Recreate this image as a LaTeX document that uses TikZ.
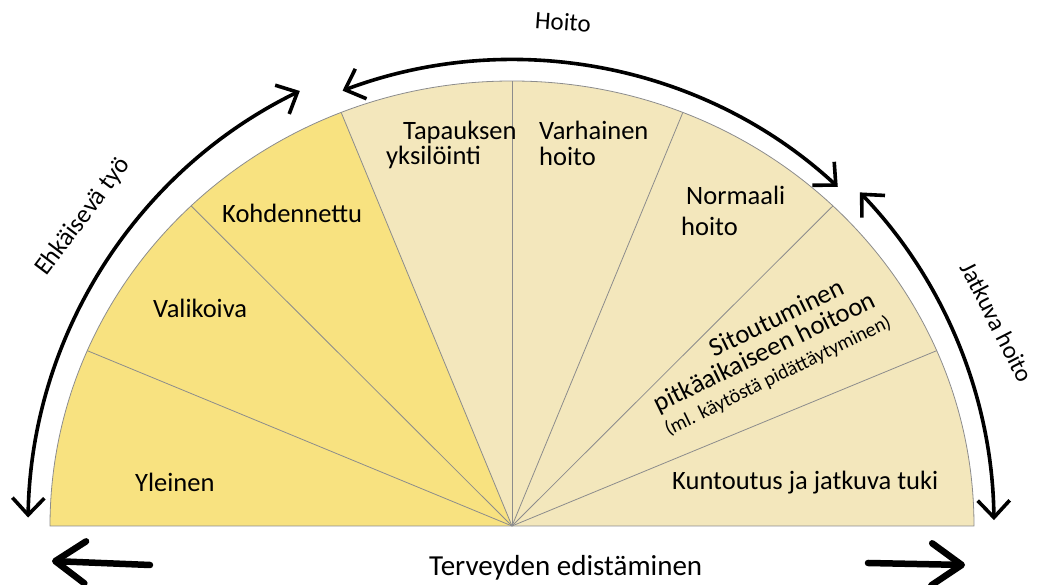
\documentclass[tikz,border=0pt]{standalone}
\usepackage{fontspec}
\setmainfont{Carlito}
\usetikzlibrary{arrows.meta}
\definecolor{yel}{RGB}{248,226,128}
\definecolor{bei}{RGB}{243,231,188}
\definecolor{gry}{RGB}{140,140,140}
\begin{document}
\begin{tikzpicture}[x=1pt,y=1pt,
  lab/.style={inner sep=0pt, anchor=base west, font=\fontsize{26.5}{30}\selectfont},
  rlab/.style={inner sep=0pt, font=\fontsize{26.5}{30}\selectfont},
  sep/.style={draw=gry, line width=0.8pt},
  arcarrow/.style={line width=3.6pt, {Straight Barb[length=17pt,width=32pt]}-{Straight Barb[length=17pt,width=32pt]}},
  bigarrow/.style={line width=6.5pt, line cap=round, -{Straight Barb[length=30pt,width=42pt,line cap=round,line join=round]}}]
\useasboundingbox (0,0) rectangle (1037,585);
\coordinate (C) at (512,59);
% pie
\fill[bei] (C) -- ++(0:462 and 445) arc[start angle=0,end angle=111.7,x radius=462,y radius=445] -- cycle;
\fill[yel] (C) -- ++(111.7:462 and 445) arc[start angle=111.7,end angle=180,x radius=462,y radius=445] -- cycle;
\foreach \a in {23.2,46,68.3,90,111.7,134,156.8}
  \draw[sep] (C) -- ++(\a:462 and 445);
\draw[sep] (C) ++(0:462 and 445) arc[start angle=0,end angle=180,x radius=462,y radius=445] -- cycle;
% sector labels
\node[lab] (yl) at (135,93) {Yleinen};
\node[lab] (va) at (153,267) {Valikoiva};
\node[lab] (ko) at (222,362) {Kohdennettu};
\node[lab] (ta) at (403,445) {Tapauksen};
\node[lab] (yk) at (386,420) {yksilöinti};
\node[lab] (vh) at (539,445) {Varhainen};
\node[lab] (vh2) at (539,419) {hoito};
\node[lab] (no) at (686,380) {Normaali};
\node[lab] (no2) at (681,349) {hoito};
\node[lab] (ku) at (672,95) {Kuntoutus ja jatkuva tuki};
\node[rlab, rotate=26] (si1) at (776.5,268) {Sitoutuminen};
\node[rlab, rotate=26] (si2) at (765,232) {pitkäaikaiseen hoitoon};
\node[rlab, rotate=26, font=\fontsize{20}{24}\selectfont] (si3) at (778,209) {(ml. käytöstä pidättäytyminen)};
% arcs
\draw[arcarrow] (C) ++(179:484) arc[start angle=179,end angle=116,radius=484];
\draw[arcarrow] (C) ++(110.9:475 and 466) arc[start angle=110.9,end angle=46.7,x radius=475,y radius=466];
\draw[arcarrow] (C) ++(43.8:482) arc[start angle=43.8,end angle=0.7,radius=482];
\node[inner sep=0pt, rotate=53, font=\fontsize{25.5}{28}\selectfont] (eh) at (83,368) {Ehkäisevä työ};
\node[inner sep=0pt, rotate=-4, font=\fontsize{25}{28}\selectfont] (ho) at (563,563) {Hoito};
\node[inner sep=0pt, rotate=-63, font=\fontsize{24.5}{28}\selectfont] (ja) at (997,263) {Jatkuva hoito};
% bottom
\coordinate (bl1) at (150,20);
\coordinate (bl2) at (52,24);
\coordinate (br1) at (868,22);
\coordinate (br2) at (965,20);
\draw[bigarrow] (bl1) -- (bl2);
\draw[bigarrow] (br1) -- (br2);
\node[lab, font=\fontsize{29}{31}\selectfont] (te) at (429,9) {Terveyden edistäminen};
\end{tikzpicture}
\end{document}
